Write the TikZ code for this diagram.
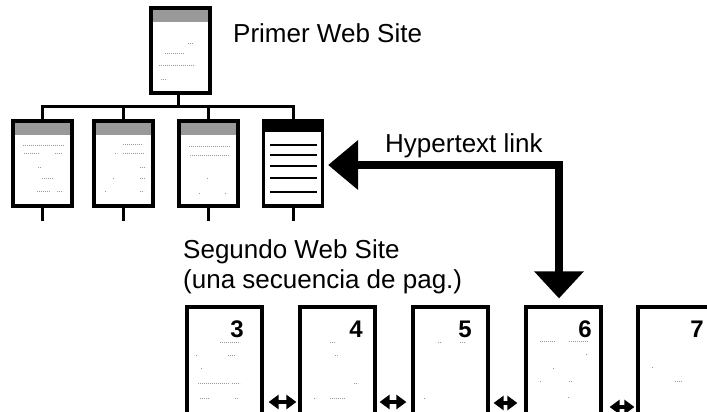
\documentclass[tikz,border=0pt]{standalone}
\usepackage{fontspec}
\setmainfont{Liberation Sans}
\usetikzlibrary{arrows.meta}
\begin{document}
\begin{tikzpicture}[x=1pt,y=-1pt]
\tikzset{
  pagebox/.style={draw, line width=3.2pt, fill=white, inner sep=0pt,
    minimum width=59pt, minimum height=85pt},
  seqpage/.style={draw, line width=3.2pt, fill=white, inner sep=0pt,
    minimum width=75pt, minimum height=120pt},
  banded/.style={path picture={\fill[#1] (path picture bounding box.north west)
    rectangle ([yshift=-14pt]path picture bounding box.north east);}},
  darkband/.style={path picture={\fill[black] (path picture bounding box.north west)
    rectangle ([yshift=-11pt]path picture bounding box.north east);}},
  tree/.style={line width=3pt},
  scrib/.style={black!40, line width=0.8pt, dash pattern=on 1.2pt off 0.8pt},
  textrule/.style={line width=2.8pt},
  hlink/.style={line width=8pt,
    {Triangle[length=30pt,width=48pt]}-{Triangle[length=27pt,width=48pt]}},
  seqlink/.style={line width=4pt,
    {Triangle[length=10pt,width=14pt]}-{Triangle[length=10pt,width=14pt]}},
  captext/.style={font=\fontsize{26pt}{30pt}\selectfont, inner sep=0pt, anchor=base west},
  pnum/.style={font=\bfseries\fontsize{24pt}{24pt}\selectfont, inner sep=0pt},
}
\useasboundingbox (0,0) rectangle (707,412);
\clip (0,0) rectangle (707,412);

% ---- first site: a home page with four child pages
\node[pagebox, banded=black!40] (top) at (180.5,50.5) {};
\node[pagebox, banded=black!40] (c1) at (42.5,163.5) {};
\node[pagebox, banded=black!40] (c2) at (123.5,163.5) {};
\node[pagebox, banded=black!40] (c3) at (208.5,163.5) {};
\node[pagebox, darkband] (c4) at (293,163.5) {};

\coordinate (hub) at (178,106);
\draw[tree] (top.south -| hub) -- (hub);
\draw[tree] (c1.north) -- (c1.north |- hub) -- (c4.north |- hub) -- (c4.north);
\draw[tree] (c2.north) -- (c2.north |- hub);
\draw[tree] (c3.north) -- (c3.north |- hub);
\foreach \c in {c1,c2,c3,c4} \draw[tree] (\c.south) -- ++(0,13);

% faint text marks on the pages
\draw[scrib] (188,43) -- (193,43) (165,53) -- (185,53) (159,65) -- (195,65) (161,79) -- (167,79);
\draw[scrib] (23,145) -- (65,145) (24,153) -- (40,153) (55,153) -- (62,153)
  (38,167) -- (41,167) (42,178) -- (53,178) (37,191) -- (50,191) (57,191) -- (63,191);
\draw[scrib] (123,144) -- (143,144) (115,153) -- (117,153) (123,153) -- (145,153)
  (140,167) -- (146,167) (113,178) -- (115,178) (140,178) -- (145,178)
  (105,191) -- (107,191) (140,191) -- (144,191);
\draw[scrib] (189,146) -- (230,146) (190,155) -- (230,155) (207,178) -- (209,178)
  (199,193) -- (201,193) (225,193) -- (227,193);

% the linked page shows its text as bold rules
\foreach \y in {145,155,166,178,192} \draw[textrule] (270,\y) -- (317,\y);

\node[captext] (primer) at (233,43) {Primer Web Site};

% ---- second site: a sequence of pages
\node[captext] (seg1) at (183,258) {Segundo Web Site};
\node[captext] (seg2) at (183,288) {(una secuencia de pag.)};

\node[seqpage] (p3) at (224.5,367) {};
\node[seqpage] (p4) at (337.5,367) {};
\node[seqpage] (p5) at (450.5,367) {};
\node[seqpage] (p6) at (563.5,367) {};
\node[seqpage] (p7) at (675.5,367) {};

\node[pnum] (n3) at (237,329) {3};
\node[pnum] (n4) at (356,329) {4};
\node[pnum] (n5) at (465,329) {5};
\node[pnum] (n6) at (585,329) {6};
\node[pnum] (n7) at (697,329) {7};

\draw[scrib] (220,342) -- (240,342) (196,355) -- (198,355) (228,355) -- (235,355)
  (201,368) -- (203,368) (198,383) -- (230,383) (232,383) -- (240,383)
  (200,398) -- (210,398) (235,398) -- (238,398);
\draw[scrib] (330,342) -- (336,342) (335,355) -- (338,355) (354,383) -- (358,383)
  (314,398) -- (316,398) (330,398) -- (345,398);
\draw[scrib] (438,342) -- (442,342) (460,342) -- (466,342) (424,398) -- (426,398);
\draw[scrib] (540,341) -- (555,341) (569,341) -- (588,341) (586,354) -- (588,354)
  (553,368) -- (555,368) (540,381) -- (542,381) (569,381) -- (573,381) (568,397) -- (570,397);
\draw[scrib] (652,367) -- (654,367) (675,381) -- (682,381);

\draw[seqlink] ([xshift=5pt,yshift=-35pt]p3.east) -- ([xshift=-2pt,yshift=-35pt]p4.west);
\draw[seqlink] ([xshift=3pt,yshift=-35pt]p4.east) -- ([xshift=-5pt,yshift=-35pt]p5.west);
\draw[seqlink] ([xshift=4pt,yshift=-36pt]p5.east) -- ([xshift=-7pt,yshift=-36pt]p6.west);
\draw[seqlink] ([xshift=7pt,yshift=-40pt]p6.east) -- ([xshift=-2pt,yshift=-40pt]p7.west);

% ---- the hypertext link between the two sites
\coordinate (bend) at (559,165);
\draw[hlink] ([xshift=4pt]bend -| c4.east) -- (bend) -- ([yshift=7pt]bend |- p6.north);
\node[captext] (hyper) at (385,152) {Hypertext link};
\end{tikzpicture}
\end{document}
